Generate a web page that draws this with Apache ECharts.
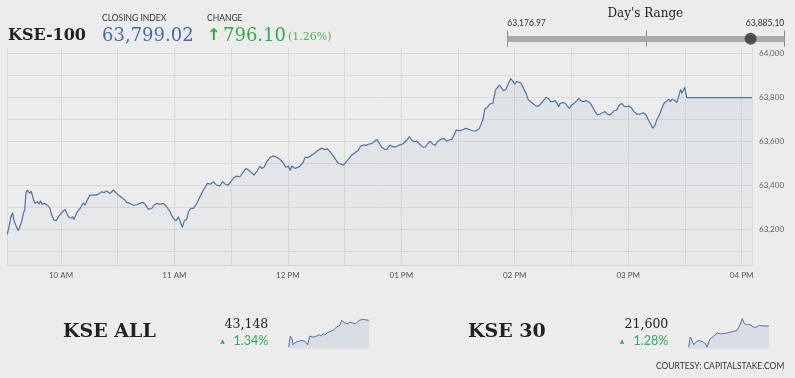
<!DOCTYPE html>
<html>
<head>
<meta charset="utf-8">
<title>KSE-100</title>
<script src="https://cdn.jsdelivr.net/npm/echarts@6/dist/echarts.min.js"></script>
<style>
  html, body { margin: 0; padding: 0; background: #ececec; }
  #chart { width: 795px; height: 378px; }
</style>
</head>
<body>
<div id="chart"></div>
<script>
// intraday KSE-100, time in minutes since midnight
var kseTimes = [
  571.6, 572.7, 573.5, 574.4, 575.1, 575.8, 576.5, 577.4, 578.3, 579.2, 580.1, 580.8, 581.5, 582.2, 583.2, 584.3,
  585.4, 586.4, 587.5, 588.5, 589.2, 589.9, 591.5, 593.3, 594.2, 595.1, 596.3, 597.4, 598.6, 599.8, 600.9, 602.1,
  603.0, 603.9, 605.1, 606.2, 606.9, 608.3, 610.1, 611.8, 612.7, 613.9, 615.3, 616.2, 618.0, 619.7, 621.5, 622.7,
  624.2, 625.9, 627.7, 628.6, 630.3, 632.1, 633.9, 634.7, 636.5, 638.3, 640.0, 641.8, 643.2, 644.4, 646.2, 648.0,
  649.2, 650.6, 652.4, 654.1, 655.9, 657.7, 659.4, 660.8, 662.1, 663.3, 664.2, 665.2, 666.5, 667.4, 668.6, 670.0,
  671.8, 673.5, 675.3, 677.4, 679.2, 680.6, 682.3, 684.1, 685.5, 686.8, 688.5, 689.4, 691.2, 692.9, 694.7, 696.5,
  697.9, 699.1, 700.9, 702.1, 703.5, 705.3,
  706.2, 707.4, 708.8, 710.6, 712.3, 713.7, 715.9, 717.6, 719.0, 720.3, 721.2, 722.0, 722.9, 723.8, 724.7, 726.1,
  727.3, 728.2, 729.1, 730.9, 732.6, 734.4, 736.1, 737.9, 739.7, 740.9, 742.3, 744.1, 745.5, 746.7, 748.0, 749.4,
  750.8, 752.0, 753.8, 755.0, 756.1, 757.3, 758.5, 760.0, 761.7, 763.1, 764.4, 765.6, 767.0, 768.4, 769.6, 771.4,
  772.6, 774.0, 775.5, 777.2, 779.0, 780.7, 782.0, 783.2, 784.3, 785.5, 786.7, 788.1, 789.6, 791.3, 792.6, 793.8,
  795.2, 796.6, 797.9, 799.1, 800.9, 802.6, 804.0, 805.4, 806.7, 807.9, 809.0, 809.7, 811.1, 812.8, 814.3, 816.0,
  817.8, 819.5, 821.3,
  823.1, 824.3, 825.5, 826.9, 828.4, 829.1, 829.8, 830.8, 831.9, 832.9, 834.0, 835.4, 836.6, 837.9, 838.9, 840.0,
  841.0, 841.9, 843.2, 844.6, 846.0, 847.2, 848.5, 849.9, 851.3, 852.7, 853.7, 855.2, 856.6, 857.8, 859.0, 860.1,
  861.3, 862.6, 863.3, 864.0, 865.4, 866.8, 867.8, 868.9, 870.1, 871.4, 872.8, 873.8, 874.9, 876.3, 877.7, 878.9,
  880.2, 881.6, 882.5, 883.7, 885.1, 886.5, 887.8, 889.0, 890.1, 891.3, 892.5, 893.9, 895.4, 896.6, 897.8, 899.2,
  900.6, 901.9, 903.1, 904.5, 906.3, 908.1, 909.5, 910.7, 911.9, 913.0, 914.2, 915.1, 916.5, 917.8, 919.0, 920.4,
  921.5, 922.2, 923.2, 924.3, 925.7, 926.9, 927.8, 928.5, 929.2, 929.9, 931.0, 965.5
];
var kseValues = [
  63177, 63220, 63257, 63276, 63242, 63224, 63219, 63194, 63197, 63235, 63273, 63288, 63367, 63379, 63364, 63373,
  63336, 63318, 63326, 63315, 63330, 63315, 63318, 63306, 63295, 63265, 63242, 63239, 63257, 63270, 63280, 63291,
  63297, 63257, 63250, 63257, 63245, 63276, 63295, 63321, 63310, 63333, 63356, 63363, 63356, 63359, 63371, 63367,
  63374, 63363, 63379, 63370, 63356, 63345, 63333, 63323, 63318, 63310, 63312, 63318, 63323, 63315, 63292, 63295,
  63310, 63318, 63315, 63318, 63303, 63280, 63250, 63239, 63257, 63230, 63209, 63239, 63245, 63280, 63295, 63295,
  63318, 63348, 63379, 63409, 63406, 63417, 63401, 63398, 63417, 63406, 63401, 63412, 63432, 63442, 63439, 63462,
  63477, 63470, 63457, 63447, 63462, 63488,
  63477, 63482, 63507, 63527, 63533, 63530, 63518, 63500, 63482, 63488, 63467, 63488, 63497, 63477, 63470, 63485,
  63497, 63507, 63527, 63527, 63538, 63548, 63560, 63568, 63563, 63566, 63553, 63533, 63515, 63500, 63497, 63492,
  63507, 63518, 63538, 63545, 63553, 63560, 63579, 63583, 63583, 63588, 63591, 63598, 63609, 63591, 63573, 63563,
  63566, 63583, 63575, 63575, 63583, 63588, 63598, 63609, 63621, 63606, 63598, 63601, 63588, 63575, 63573, 63588,
  63601, 63588, 63582, 63598, 63609, 63613, 63601, 63606, 63609, 63629, 63651, 63644, 63648, 63654, 63659, 63654,
  63648, 63647, 63659,
  63697, 63750, 63754, 63770, 63773, 63765, 63833, 63833, 63856, 63860, 63830, 63836, 63863, 63885, 63875, 63860,
  63871, 63879, 63866, 63841, 63818, 63788, 63780, 63770, 63760, 63760, 63765, 63785, 63800, 63795, 63780, 63780,
  63785, 63770, 63757, 63773, 63776, 63773, 63760, 63750, 63765, 63773, 63785, 63795, 63785, 63780, 63785, 63780,
  63770, 63750, 63735, 63720, 63724, 63730, 63735, 63724, 63720, 63727, 63739, 63742, 63765, 63773, 63760, 63757,
  63760, 63750, 63735, 63724, 63724, 63730, 63720, 63697, 63679, 63659, 63674, 63697, 63720, 63750, 63773, 63783,
  63791, 63780, 63791, 63788, 63776, 63810, 63836, 63818, 63825, 63845, 63799.02, 63799.02
];
var hourLabels = ['10 AM', '11 AM', '12 PM', '01 PM', '02 PM', '03 PM', '04 PM'];

var closeValue = 63799.02;
var changeValue = '796.10';
var changePct = '(1.26%)';
var rangeLow = 63176.97;
var rangeHigh = 63885.10;

var kseAllTimes = [572, 580, 588, 593, 601, 610, 621, 633, 642, 651, 659, 665, 675, 687, 695, 703, 711, 719, 731, 741,
  752, 760, 768, 777, 790, 796, 806, 813, 819, 826, 831, 839, 847, 855, 862, 872, 883, 891, 899, 908, 918, 924, 932, 940, 965];
var kseAllValues = [42627, 42842, 42790, 42673, 42712, 42692, 42738, 42757, 42725, 42738, 42712, 42673, 42842, 42822,
  42855, 42829, 42842, 42868, 42842, 42887, 42868, 42907, 42920, 42933, 42952, 42985, 43017, 43024, 43037, 43082,
  43147, 43115, 43095, 43115, 43082, 43115, 43095, 43128, 43082, 43115, 43147, 43180, 43167, 43147, 43148];

var kse30Times = [572, 580, 588, 597, 605, 613, 621, 629, 638, 646, 654, 662, 670, 678, 687, 695, 703, 711, 719, 728,
  736, 744, 752, 760, 768, 777, 785, 793, 801, 809, 818, 826, 834, 839, 845, 855, 862, 872, 880, 888, 895, 904, 911,
  918, 924, 932, 965];
var kse30Values = [21392, 21491, 21458, 21415, 21435, 21425, 21458, 21465, 21448, 21435, 21425, 21392, 21442, 21475,
  21481, 21501, 21508, 21531, 21514, 21524, 21508, 21524, 21508, 21531, 21521, 21541, 21534, 21547, 21534, 21557,
  21574, 21623, 21673, 21666, 21623, 21613, 21607, 21613, 21600, 21590, 21600, 21590, 21574, 21607, 21613, 21600, 21600];

var lineColor = '#4a75a5';
var serif = '"DejaVu Serif", serif';

function zip(xs, ys) {
  var out = [];
  for (var i = 0; i < Math.min(xs.length, ys.length); i++) {
    out.push([xs[i], ys[i]]);
  }
  return out;
}

function fmt(v, digits) {
  return v.toLocaleString('en-US', { minimumFractionDigits: digits, maximumFractionDigits: digits });
}

function txt(text, x, y, font, fill, align) {
  return {
    type: 'text', x: x, y: y, silent: true,
    style: {
      text: text, font: font, fill: fill,
      align: align || 'left', textAlign: align || 'left',
      verticalAlign: 'middle', textVerticalAlign: 'middle'
    }
  };
}

var chart = echarts.init(document.getElementById('chart'));

var sparkArea = { color: 'rgba(74,117,165,0.16)' };

var option = {
  backgroundColor: '#ececec',
  animation: false,
  grid: [
    { left: 7.3, top: 48.3, width: 744.7, height: 217.4 },
    { left: 507.3, top: 30.7, width: 277, height: 16 },
    { left: 288.7, top: 318, width: 80.3, height: 30.7 },
    { left: 688.7, top: 318, width: 80.3, height: 30.7 }
  ],
  xAxis: [
    {
      gridIndex: 0, type: 'value', min: 571.6, max: 965.5, splitNumber: 13,
      axisLine: { show: true, lineStyle: { color: '#d6d6d6' } },
      axisTick: { show: false },
      splitLine: { show: true, lineStyle: { color: '#dadada' } },
      axisLabel: {
        color: '#555', fontSize: 8, fontFamily: 'Lato', margin: 6,
        formatter: function (v) {
          if (Math.abs(v % 60) > 0.01) return '';
          return hourLabels[v / 60 - 10] || '';
        }
      }
    },
    {
      gridIndex: 1, type: 'value', min: rangeLow, max: rangeHigh, interval: (rangeHigh - rangeLow) / 2,
      axisLine: { show: true, onZero: true, lineStyle: { color: '#aaaaaa', width: 6, cap: 'butt' } },
      axisTick: { show: false }, axisLabel: { show: false },
      splitLine: { show: true, lineStyle: { color: '#888', width: 1 } }
    },
    { gridIndex: 2, type: 'value', min: 572, max: 965, show: false },
    { gridIndex: 3, type: 'value', min: 572, max: 965, show: false }
  ],
  yAxis: [
    {
      gridIndex: 0, type: 'value', position: 'right', min: 63035, max: 64022.7, splitNumber: 10,
      axisLine: { show: false }, axisTick: { show: false },
      splitLine: { show: true, showMaxLine: false, lineStyle: { color: '#dadada' } },
      axisLabel: {
        color: '#666', fontSize: 8, fontFamily: 'Lato', margin: 7,
        formatter: function (v) {
          return Math.abs(v % 200) < 0.01 ? fmt(v, 0) : '';
        }
      }
    },
    { gridIndex: 1, type: 'value', min: -1, max: 1, show: false },
    { gridIndex: 2, type: 'value', min: 42595, max: 43193, show: false },
    { gridIndex: 3, type: 'value', min: 21376, max: 21679, show: false }
  ],
  series: [
    {
      type: 'line', xAxisIndex: 0, yAxisIndex: 0, data: zip(kseTimes, kseValues),
      showSymbol: false, silent: true,
      lineStyle: { color: lineColor, width: 1.2 },
      areaStyle: {
        color: new echarts.graphic.LinearGradient(0, 0, 0, 1, [
          { offset: 0, color: 'rgba(74,117,165,0.13)' },
          { offset: 1, color: 'rgba(74,117,165,0.03)' }
        ])
      }
    },
    {
      type: 'scatter', xAxisIndex: 1, yAxisIndex: 1, data: [[closeValue, 0]],
      symbolSize: 12, itemStyle: { color: '#333' }, silent: true, z: 5
    },
    {
      type: 'line', xAxisIndex: 2, yAxisIndex: 2, data: zip(kseAllTimes, kseAllValues),
      showSymbol: false, silent: true,
      lineStyle: { color: lineColor, width: 1 }, areaStyle: sparkArea
    },
    {
      type: 'line', xAxisIndex: 3, yAxisIndex: 3, data: zip(kse30Times, kse30Values),
      showSymbol: false, silent: true,
      lineStyle: { color: lineColor, width: 1 }, areaStyle: sparkArea
    }
  ],
  graphic: [
    txt('KSE-100', 8, 36, 'bold 16px ' + serif, '#222'),
    txt('CLOSING INDEX', 102, 18.5, '8.5px Lato', '#333'),
    txt(fmt(closeValue, 2), 102, 36, '18px ' + serif, '#3d6fa6'),
    txt('CHANGE', 207, 18.5, '8.5px Lato', '#333'),
    txt('\u2191', 207, 36, 'bold 16px "DejaVu Sans"', '#2eaa4a'),
    txt(changeValue, 223, 36, '18px ' + serif, '#2eaa4a'),
    txt(changePct, 288, 37, '11px ' + serif, '#4db54f'),

    txt("Day's Range", 645.3, 14, '12px ' + serif, '#222', 'center'),
    txt(fmt(rangeLow, 2), 507.3, 23.5, '8.5px Lato', '#333'),
    txt(fmt(rangeHigh, 2), 784.3, 23.5, '8.5px Lato', '#333', 'right'),

    txt('KSE ALL', 63, 332, 'bold 19px ' + serif, '#222'),
    txt('43,148', 268.3, 325, '12.5px ' + serif, '#222', 'right'),
    txt('\u25B2', 222.5, 341, '6px "DejaVu Sans"', '#2eaf5a', 'center'),
    txt('1.34%', 268.3, 341, '12.5px Lato', '#2eaf5a', 'right'),

    txt('KSE 30', 468, 332, 'bold 19px ' + serif, '#222'),
    txt('21,600', 668.3, 325, '12.5px ' + serif, '#222', 'right'),
    txt('\u25B2', 622, 341, '6px "DejaVu Sans"', '#2eaf5a', 'center'),
    txt('1.28%', 668.3, 341, '12.5px Lato', '#2eaf5a', 'right'),

    txt('COURTESY: CAPITALSTAKE.COM', 784.3, 366, '8.5px Lato', '#333', 'right')
  ]
};

chart.setOption(option);
</script>
</body>
</html>
